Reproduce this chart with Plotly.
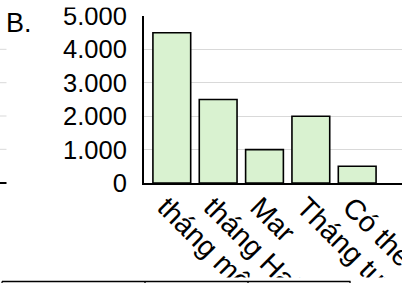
import plotly.graph_objects as go

categories = ["tháng một", "tháng Hai", "Mar", "Tháng tư", "Có thể"]
values = [4500, 2500, 1000, 2000, 500]
y_ticks = [0, 1000, 2000, 3000, 4000, 5000]

W, H = 402, 283
L, R, T, B = 144, 0, 16, 100
PW, PH = W - L - R, H - T - B

def px(x):
    return (x - L) / PW

def py(y):
    return (H - B - y) / PH

FONT = "Liberation Sans"

fig = go.Figure()
fig.add_trace(go.Bar(
    x=categories, y=values,
    marker=dict(color="#d9f2d0", line=dict(color="#000000", width=1.6)),
))

shapes = []
# fragments of neighbouring content on the left
for gy in [49.3, 82.7, 116, 149.3]:
    shapes.append(dict(type="line", xref="paper", yref="paper",
                       x0=px(0), x1=px(6.5), y0=py(gy), y1=py(gy),
                       line=dict(color="#d9d9d9", width=1)))
shapes.append(dict(type="line", xref="paper", yref="paper",
                   x0=px(0), x1=px(6.5), y0=py(183), y1=py(183),
                   line=dict(color="#000000", width=2)))
# clipping bands (top and bottom)
shapes.append(dict(type="rect", xref="paper", yref="paper", layer="above",
                   x0=px(-2), x1=px(W + 2), y0=py(-2), y1=py(7.5),
                   fillcolor="white", line=dict(width=0)))
shapes.append(dict(type="rect", xref="paper", yref="paper", layer="above",
                   x0=px(-2), x1=px(W + 2), y0=py(277.5), y1=py(H + 2),
                   fillcolor="white", line=dict(width=0)))
# table below
shapes.append(dict(type="line", xref="paper", yref="paper", layer="above",
                   x0=px(2), x1=px(350.5), y0=py(281.5), y1=py(281.5),
                   line=dict(color="#000000", width=1.3)))
for vx in [2, 145, 248, 350]:
    shapes.append(dict(type="line", xref="paper", yref="paper", layer="above",
                       x0=px(vx), x1=px(vx), y0=py(281.5), y1=py(H + 2),
                       line=dict(color="#000000", width=1.3)))

fig.update_layout(
    width=W, height=H,
    margin=dict(l=L, r=R, t=T, b=B, pad=0),
    paper_bgcolor="white", plot_bgcolor="white",
    showlegend=False,
    bargap=0.185,
    separators=",.",
    font=dict(family=FONT, size=25.5, color="#000000"),
    shapes=shapes,
    annotations=[dict(text="B.", xref="paper", yref="paper",
                      x=px(4), y=py(6), xanchor="left", yanchor="top",
                      showarrow=False,
                      font=dict(family=FONT, size=27, color="#000000"))],
)
fig.update_xaxes(
    type="category", range=[-0.6, 4.967],
    showline=True, linecolor="#000000", linewidth=2,
    showgrid=False, ticks="", tickangle=45,
    ticklabelstandoff=-6, ticklabelshift=-6,
    tickfont=dict(family=FONT, size=28.5, color="#000000"),
    automargin=False, fixedrange=True,
)
fig.update_yaxes(
    range=[0, 5000], tickvals=y_ticks, tickformat=",d",
    showline=True, linecolor="#000000", linewidth=2,
    showgrid=True, gridcolor="#d9d9d9", gridwidth=1,
    zeroline=False, ticks="", ticklabelstandoff=10,
    tickfont=dict(family=FONT, size=25.5, color="#000000"),
    automargin=False, fixedrange=True,
)

fig.write_html("out.html", config=dict(displayModeBar=False),
               post_script="document.body.style.margin='0px';document.body.style.overflow='hidden';")
